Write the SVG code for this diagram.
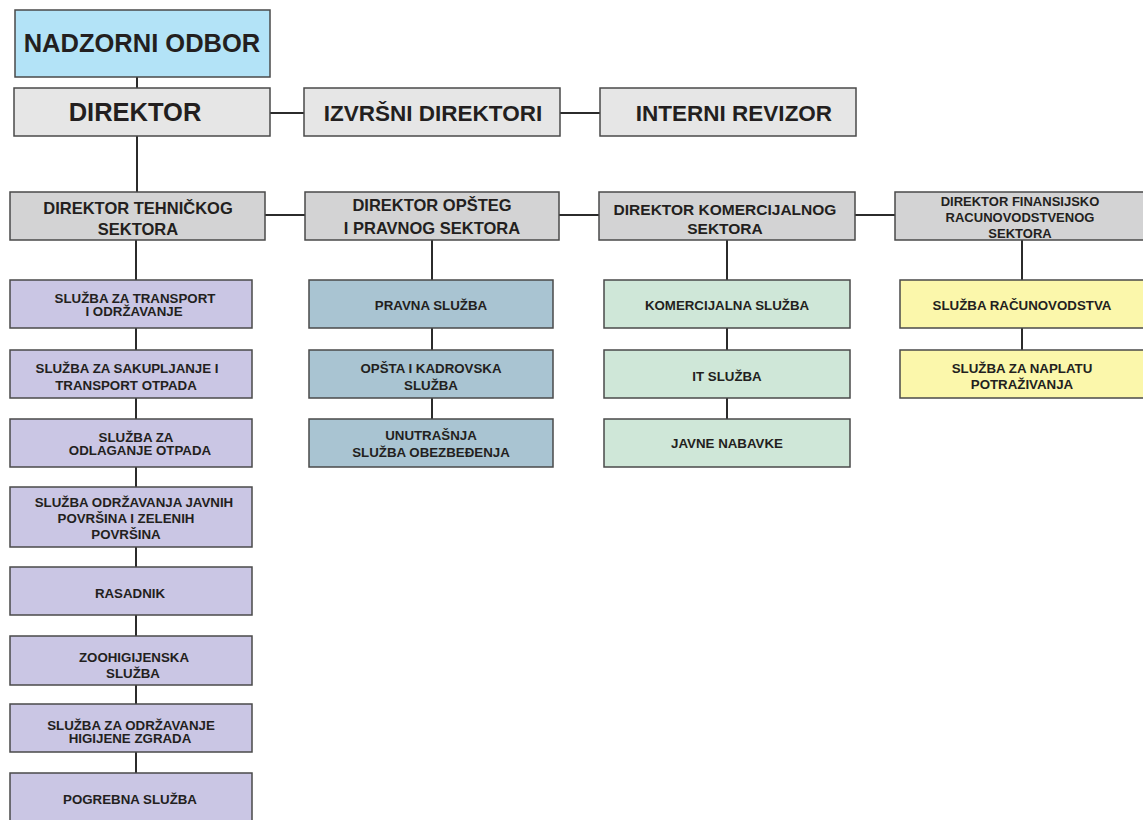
<svg xmlns="http://www.w3.org/2000/svg" width="1143" height="820" viewBox="0 0 1143 820">
<style>
.b{stroke:#4a4a4a;stroke-width:1.5}
.t{font-family:"Liberation Sans",Arial,sans-serif;font-weight:bold;fill:#231f20;text-anchor:middle}
.c{font-size:13.3px}
.s{font-size:16.5px}
.top{font-size:22.5px}
.big{font-size:25.5px}
.gl{fill:#e6e6e6}
.gs{fill:#d3d3d4}
.pu{fill:#cac6e4}
.bl{fill:#a9c4d2}
.gr{fill:#cfe7d8}
.ye{fill:#fbf7ab}
.ln{stroke:#2b2b2b;stroke-width:2;fill:none}
</style>
<rect width="1143" height="820" fill="#ffffff"/>
<g id="connectors" class="ln">
<line x1="137" y1="77" x2="137" y2="88"/>
<line x1="270" y1="113" x2="304" y2="113"/>
<line x1="560" y1="113" x2="600" y2="113"/>
<line x1="137" y1="136" x2="137" y2="192"/>
<line x1="265" y1="215" x2="305" y2="215"/>
<line x1="559" y1="215" x2="599" y2="215"/>
<line x1="855" y1="215" x2="895" y2="215"/>
<line x1="136" y1="240" x2="136" y2="773"/>
<line x1="432" y1="240" x2="432" y2="419"/>
<line x1="727" y1="240" x2="727" y2="419"/>
<line x1="1022" y1="240" x2="1022" y2="350"/>
</g>
<g id="nadzorni"><rect class="b" x="15" y="10" width="255" height="67" fill="#b3e3f7"/><text class="t big" x="142" y="52">NADZORNI ODBOR</text></g>
<g id="direktor"><rect class="b gl" x="14" y="88" width="256" height="48"/><text class="t big" x="135" y="121">DIREKTOR</text></g>
<g id="izvrsni"><rect class="b gl" x="304" y="88" width="256" height="48"/><text class="t top" x="433" y="121">IZVRŠNI DIREKTORI</text></g>
<g id="revizor"><rect class="b gl" x="600" y="88" width="256" height="48"/><text class="t top" x="734" y="121">INTERNI REVIZOR</text></g>

<g id="dir-teh"><rect class="b gs" x="10" y="192" width="255" height="48"/><text class="t s" x="138" y="214">DIREKTOR TEHNIČKOG</text><text class="t s" x="138" y="235">SEKTORA</text></g>
<g id="dir-opsteg"><rect class="b gs" x="305" y="192" width="254" height="48"/><text class="t s" x="432" y="211">DIREKTOR OPŠTEG</text><text class="t s" x="432" y="234">I PRAVNOG SEKTORA</text></g>
<g id="dir-kom"><rect class="b gs" x="599" y="192" width="256" height="48"/><text class="t" style="font-size:15.5px" x="725" y="215">DIREKTOR KOMERCIJALNOG</text><text class="t" style="font-size:15.5px" x="725" y="234">SEKTORA</text></g>
<g id="dir-fin"><rect class="b gs" x="895" y="192" width="252" height="48"/><text class="t" style="font-size:13px" x="1020" y="206">DIREKTOR FINANSIJSKO</text><text class="t" style="font-size:13px" x="1020" y="222">RACUNOVODSTVENOG</text><text class="t" style="font-size:13px" x="1020" y="238">SEKTORA</text></g>

<g id="t1"><rect class="b pu" x="10" y="280" width="242" height="48"/><text class="t c" x="135" y="303">SLUŽBA ZA TRANSPORT</text><text class="t c" x="134" y="316">I ODRŽAVANJE</text></g>
<g id="t2"><rect class="b pu" x="10" y="350" width="242" height="48"/><text class="t c" x="127" y="373">SLUŽBA ZA SAKUPLJANJE I</text><text class="t c" x="126" y="390">TRANSPORT OTPADA</text></g>
<g id="t3"><rect class="b pu" x="10" y="419" width="242" height="48"/><text class="t c" x="136" y="442">SLUŽBA ZA</text><text class="t c" x="140" y="455">ODLAGANJE OTPADA</text></g>
<g id="t4"><rect class="b pu" x="10" y="487" width="242" height="60"/><text class="t c" x="134" y="507">SLUŽBA ODRŽAVANJA JAVNIH</text><text class="t c" x="126" y="523">POVRŠINA I ZELENIH</text><text class="t c" x="126" y="539">POVRŠINA</text></g>
<g id="t5"><rect class="b pu" x="10" y="567" width="242" height="48"/><text class="t c" x="130" y="598">RASADNIK</text></g>
<g id="t6"><rect class="b pu" x="10" y="636" width="242" height="49"/><text class="t c" x="134" y="662">ZOOHIGIJENSKA</text><text class="t c" x="133" y="678">SLUŽBA</text></g>
<g id="t7"><rect class="b pu" x="10" y="704" width="242" height="48"/><text class="t c" x="131" y="730">SLUŽBA ZA ODRŽAVANJE</text><text class="t c" x="130" y="743">HIGIJENE ZGRADA</text></g>
<g id="t8"><rect class="b pu" x="10" y="773" width="242" height="60"/><text class="t c" x="130" y="804">POGREBNA SLUŽBA</text></g>

<g id="o1"><rect class="b bl" x="309" y="280" width="244" height="48"/><text class="t c" x="431" y="310">PRAVNA SLUŽBA</text></g>
<g id="o2"><rect class="b bl" x="309" y="350" width="244" height="48"/><text class="t c" x="431" y="373">OPŠTA I KADROVSKA</text><text class="t c" x="431" y="390">SLUŽBA</text></g>
<g id="o3"><rect class="b bl" x="309" y="419" width="244" height="48"/><text class="t c" x="431" y="440">UNUTRAŠNJA</text><text class="t c" x="431" y="457">SLUŽBA OBEZBEĐENJA</text></g>

<g id="k1"><rect class="b gr" x="604" y="280" width="246" height="48"/><text class="t c" x="727" y="310">KOMERCIJALNA SLUŽBA</text></g>
<g id="k2"><rect class="b gr" x="604" y="350" width="246" height="48"/><text class="t c" x="727" y="381">IT SLUŽBA</text></g>
<g id="k3"><rect class="b gr" x="604" y="419" width="246" height="48"/><text class="t c" x="727" y="448">JAVNE NABAVKE</text></g>

<g id="f1"><rect class="b ye" x="900" y="280" width="247" height="48"/><text class="t c" x="1022" y="310">SLUŽBA RAČUNOVODSTVA</text></g>
<g id="f2"><rect class="b ye" x="900" y="350" width="247" height="48"/><text class="t c" x="1022" y="373">SLUŽBA ZA NAPLATU</text><text class="t c" x="1022" y="389">POTRAŽIVANJA</text></g>
</svg>
